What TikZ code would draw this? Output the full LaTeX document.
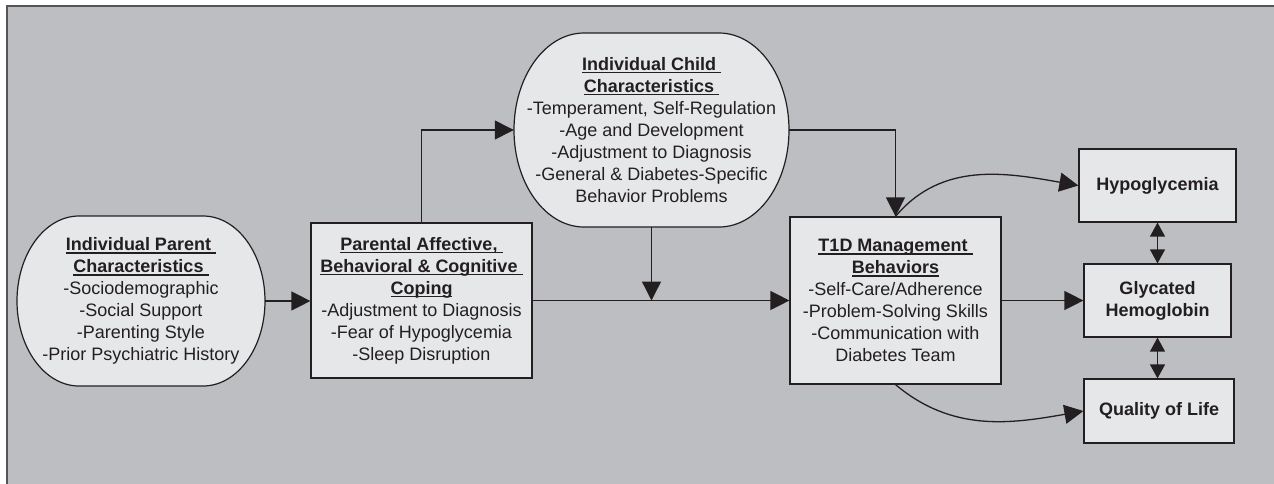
\documentclass[tikz,border=0pt]{standalone}
\usepackage{fontspec}
\setmainfont{Liberation Sans}
\usepackage{xcolor}
\usepackage{tikz}
\usetikzlibrary{arrows.meta,positioning,calc}

\definecolor{ink}{HTML}{231F20}
\definecolor{panel}{HTML}{BDBEC2}
\definecolor{boxfill}{HTML}{E6E7E9}
\definecolor{rim}{HTML}{555555}

\newsavebox{\headbox}
\newcommand{\uhead}[1]{\sbox{\headbox}{\textbf{#1}}\usebox{\headbox}\llap{\rule[-3pt]{\wd\headbox}{1.2pt}}}
% capsule outline: centre x, centre y, half width, half height, end radius
\newcommand{\capsule}[5]{%
  \draw[capsule] (#1-#3+#5, #2+#4) -- (#1+#3-#5, #2+#4)
    arc[start angle=90, end angle=-90, x radius=#5, y radius=#4]
    -- (#1-#3+#5, #2-#4)
    arc[start angle=-90, end angle=-270, x radius=#5, y radius=#4] -- cycle;}

\begin{document}
\begin{tikzpicture}[
    x=1pt, y=1pt,
    capsule/.style={draw=ink, fill=boxfill, line width=1.2pt},
    captext/.style={align=center, inner sep=0pt, text=ink, font=\fontsize{18}{22}\selectfont},
    box/.style={rectangle, draw=ink, fill=boxfill, line width=1.2pt, inner sep=0pt, align=center, text=ink, font=\fontsize{18}{22}\selectfont},
    arrow/.style={-{Triangle[length=19pt,width=19pt]}, line width=1.3pt, draw=ink},
    dbl/.style={{Triangle[length=14pt,width=15pt]}-{Triangle[length=14pt,width=15pt]}, line width=1.3pt, draw=ink}
]
\useasboundingbox (0,0) rectangle (1274,-483);
\fill[white] (0,0) rectangle (1274,-483);
\draw[rim, line width=2pt, fill=panel] (7,-6) rectangle (1285,-495);

% rounded outlines
\capsule{141}{-301}{124}{85}{62}
\capsule{651.5}{-130}{137.5}{97}{70}

\node[captext, minimum width=248pt, minimum height=170pt] (parent) at (141,-301) {
\uhead{Individual Parent\ }\\
\uhead{Characteristics\ }\\
-Sociodemographic\\
-Social Support\\
-Parenting Style\\
-Prior Psychiatric History};

\node[captext, minimum width=275pt, minimum height=194pt] (child) at (651.5,-130) {
\uhead{Individual Child\ }\\
\uhead{Characteristics\ }\\
-Temperament, Self-Regulation\\
-Age and Development\\
-Adjustment to Diagnosis\\
-General \& Diabetes-Specific\\
Behavior Problems};

\node[box, minimum width=221pt, minimum height=155pt] (coping) at (421.5,-300.5) {
\uhead{Parental Affective,\ }\\
\uhead{Behavioral \& Cognitive\ }\\
\uhead{Coping}\\
-Adjustment to Diagnosis\\
-Fear of Hypoglycemia\\
-Sleep Disruption};

\node[box, minimum width=211pt, minimum height=167pt] (t1d) at (895.5,-300.5) {
\uhead{T1D Management\ }\\
\uhead{Behaviors}\\
-Self-Care/Adherence\\
-Problem-Solving Skills\\
-Communication with\\
Diabetes Team};

\node[box, minimum width=157pt, minimum height=73pt, font=\fontsize{18}{22}\selectfont\bfseries] (hypo) at (1157.5,-185.5) {Hypoglycemia};
\node[box, minimum width=147pt, minimum height=73pt, font=\fontsize{18}{22}\selectfont\bfseries] (glyc) at (1157.5,-300.5) {Glycated\\Hemoglobin};
\node[box, minimum width=150pt, minimum height=64pt, font=\fontsize{18}{22}\selectfont\bfseries] (quality) at (1159,-411) {Quality of Life};

% connectors
\coordinate (meet) at (child.south |- t1d.west);
\draw[arrow] (parent.east) -- (parent.east -| coping.west);
\draw[arrow] (coping.north) |- (child.west);
\draw[arrow] (child.east) -| (t1d.north);
\draw[arrow] (coping.east) -- (t1d.west);
\draw[arrow] (child.south) -- (meet);
\draw[arrow] (t1d.east) -- (glyc.west);
\draw[arrow] (t1d.north) to[out=50, in=170] (hypo.west);
\draw[arrow] (t1d.south) to[out=-40, in=190] (quality.west);
\draw[dbl] (hypo.south) -- (glyc.north);
\draw[dbl] (glyc.south) -- (glyc.south |- quality.north);
\end{tikzpicture}
\end{document}
